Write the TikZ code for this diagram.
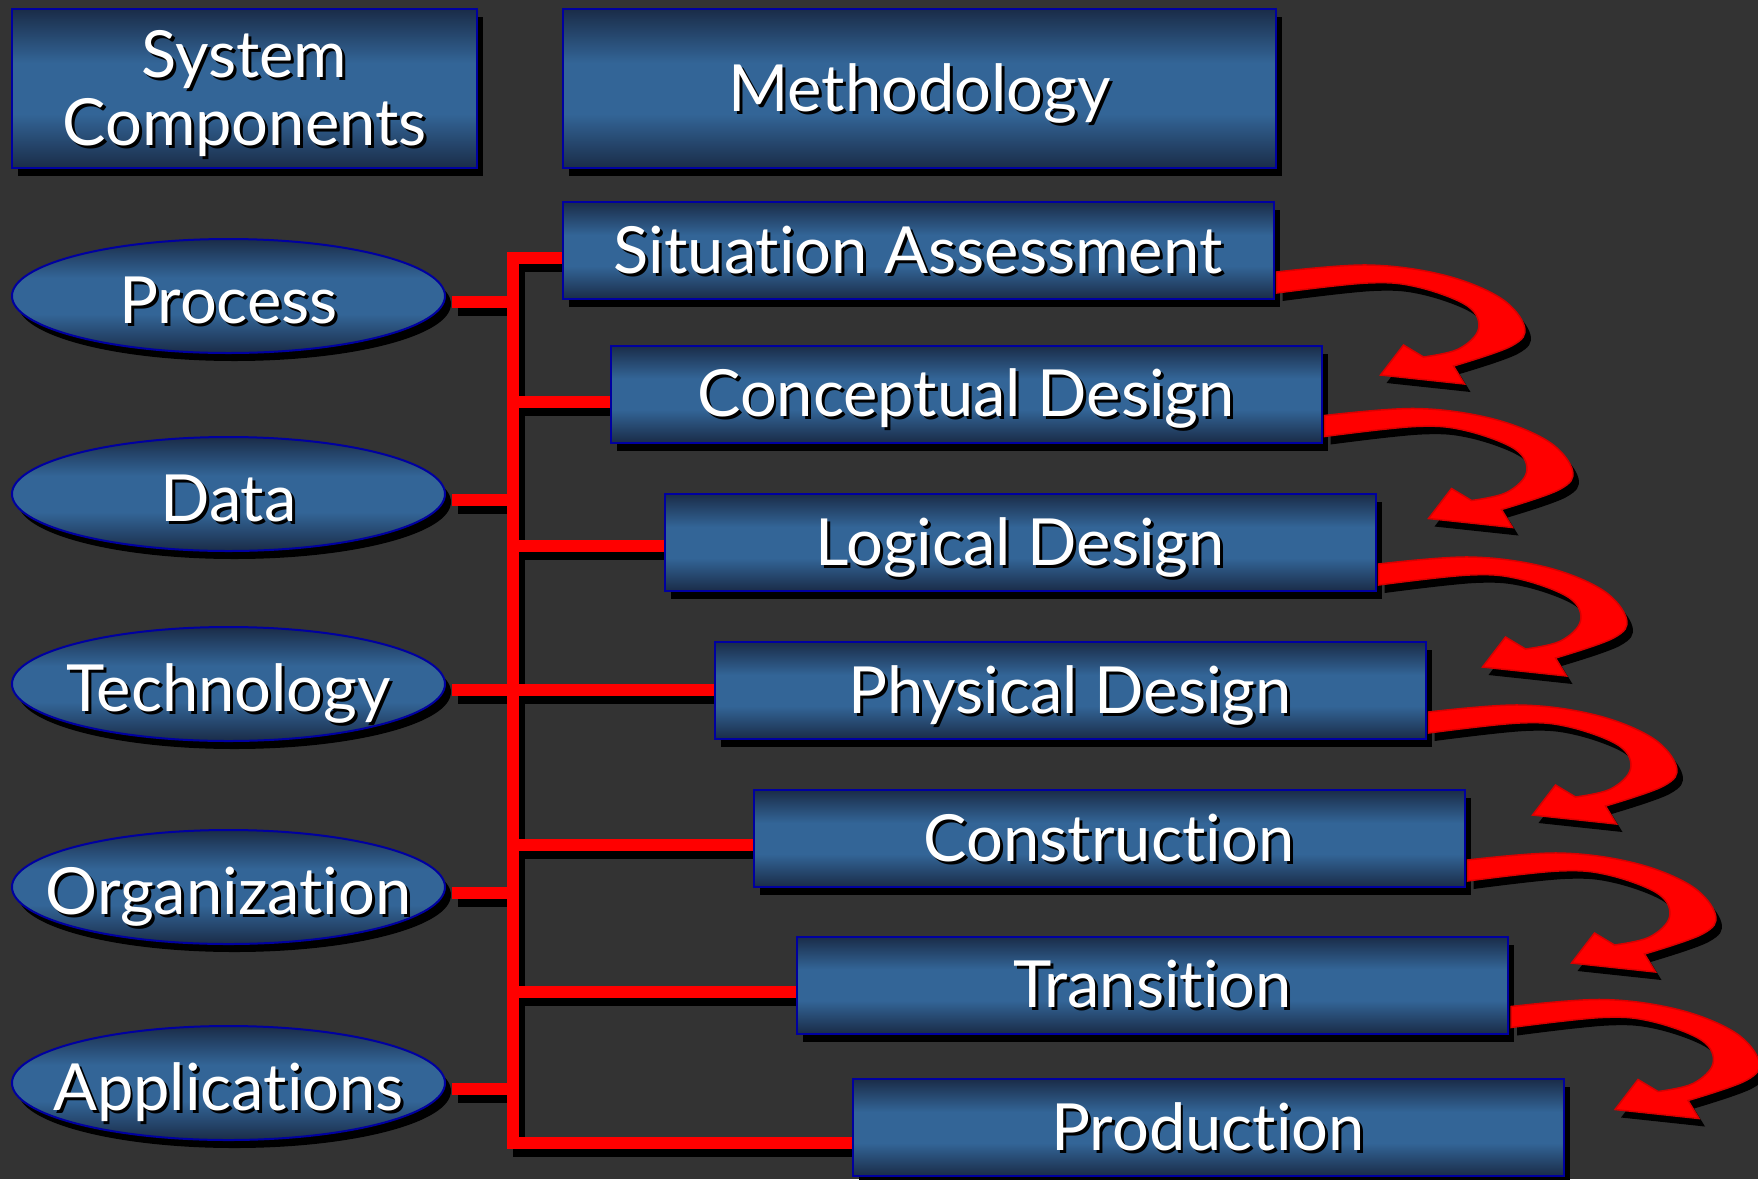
\documentclass[tikz,border=0pt]{standalone}
\usepackage{fontspec}
\setmainfont[Ligatures=NoCommon]{Lato}
\usetikzlibrary{shapes.geometric,shadows}
\definecolor{bg}{RGB}{51,51,51}
\definecolor{bdark}{RGB}{26,44,72}
\definecolor{bmid}{RGB}{51,101,151}
\definecolor{bborder}{RGB}{0,0,160}
\pgfdeclareverticalshading{boxshade}{100bp}{color(0bp)=(bdark); color(25bp)=(bdark); color(42bp)=(bmid); color(58bp)=(bmid); color(75bp)=(bdark); color(100bp)=(bdark)}
\newcommand\stext[1]{\leavevmode\rlap{\hspace{3pt}\smash{\raisebox{-3pt}{\textcolor{black}{#1}}}}\textcolor{white}{#1}}
\pgfdeclarelayer{back}
\pgfdeclarelayer{lines}
\pgfsetlayers{back,lines,main}
\newcommand\connectors{%
  \draw[conn] (sa.west |- 0,258) -- (trunktop) -- (trunkbot) -- (pr.west |- 0,1143);
  \draw[conn] (cd.west |- 0,402) -- (trunktop |- 0,402);
  \draw[conn] (ld.west |- 0,546) -- (trunktop |- 0,546);
  \draw[conn] (pd.west |- 0,690) -- (trunktop |- 0,690);
  \draw[conn] (co.west |- 0,845) -- (trunktop |- 0,845);
  \draw[conn] (tr.west |- 0,992) -- (trunktop |- 0,992);
  \draw[conn] ([xshift=7pt]proc.east |- 0,302) -- (trunktop |- 0,302);
  \draw[conn] ([xshift=7pt]data.east |- 0,500) -- (trunktop |- 0,500);
  \draw[conn] ([xshift=7pt]tech.east |- 0,690) -- (trunktop |- 0,690);
  \draw[conn] ([xshift=7pt]org.east |- 0,893) -- (trunktop |- 0,893);
  \draw[conn] ([xshift=7pt]apps.east |- 0,1089) -- (trunktop |- 0,1089);
}
\tikzset{
  tbox/.style={rectangle, draw=bborder, line width=2, shading=boxshade, inner sep=0, outer sep=0,
    general shadow={fill=black, shadow xshift=6pt, shadow yshift=-8pt}},
  mbox/.style={tbox, minimum width=711, minimum height=97},
  ebox/.style={ellipse, draw=bborder, line width=2, shading=boxshade, inner sep=0, outer sep=0,
    minimum width=433, minimum height=114,
    general shadow={fill=black, shadow xshift=6pt, shadow yshift=-8pt}},
  elab/.style={yshift=-5pt},
  curvarr/.pic={
    \path[fill=red, draw=red!85!black, line width=1.5,
      preaction={fill=black, draw=none, transform canvas={xshift=6pt,yshift=-8pt}}]
      plot[smooth, tension=0.6] coordinates {(3,-27) (94,-34) (170,-24) (227,-1) (251,28) (238,47) (180,67)}
      -- (191,85) -- (107,76) -- (130,46)
      -- plot[smooth, tension=0.6] coordinates {(150,58) (185,50) (205,30) (194,7) (144,-12) (94,-16) (3,-6)}
      -- cycle;
  }
}
\begin{document}
\begin{tikzpicture}[x=1pt, y=-1pt, every node/.style={font=\fontsize{65}{68}\selectfont, text height=45pt, text depth=0pt}]
\begin{pgfonlayer}{back}
\fill[bg] (0,0) rectangle (1758,1179);
\end{pgfonlayer}
\useasboundingbox (0,0) rectangle (1758,1179);

% header boxes
\node[tbox, minimum width=465, minimum height=159, align=center, text height=113pt, text depth=0pt] (sc) at (244.5,88.5) {\stext{System}\\\stext{Components}};
\node[tbox, minimum width=713, minimum height=159] (meth) at (919.5,88.5) {\stext{Methodology}};

% methodology steps
\node[mbox] (sa) at (918,250.5) {\stext{Situation Assessment}};
\node[mbox] (cd) at (966,394) {\stext{Conceptual Design}};
\node[mbox] (ld) at (1020,542.5) {\stext{Logical Design}};
\node[mbox] (pd) at (1070,690.5) {\stext{Physical Design}};
\node[mbox] (co) at (1109,838.5) {\stext{Construction}};
\node[mbox] (tr) at (1152.5,985) {\stext{Transition}};
\node[mbox] (pr) at (1208,1127.5) {\stext{Production}};

% components
\node[ebox, label={[elab]center:{\stext{Process}}}] (proc) at (228.5,296) {};
\node[ebox, label={[elab]center:{\stext{Data}}}] (data) at (228.5,494) {};
\node[ebox, label={[elab]center:{\stext{Technology}}}] (tech) at (228.5,684) {};
\node[ebox, label={[elab]center:{\stext{Organization}}}] (org) at (228.5,887) {};
\node[ebox, label={[elab]center:{\stext{Applications}}}] (apps) at (228.5,1083) {};

\coordinate (trunktop) at (513,258);
\coordinate (trunkbot) at (513,1143);

\begin{pgfonlayer}{lines}
\begin{scope}[transform canvas={xshift=6pt,yshift=-8pt}, conn/.style={draw=black, line width=11.5, line join=miter}]
\connectors
\end{scope}
\begin{scope}[conn/.style={draw=red, line width=11.5, line join=miter}]
\connectors
\end{scope}
\end{pgfonlayer}

% curved arrows
\pic at (sa.south east) {curvarr};
\pic at (cd.south east) {curvarr};
\pic at (ld.south east) {curvarr};
\pic at (pd.south east) {curvarr};
\pic at (co.south east) {curvarr};
\pic at (tr.south east) {curvarr};
\end{tikzpicture}
\end{document}
